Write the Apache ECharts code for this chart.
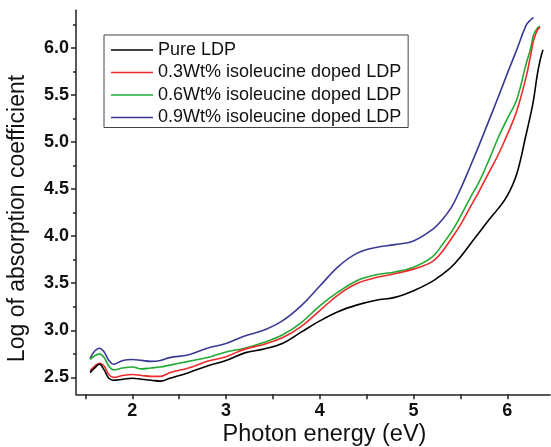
<!DOCTYPE html>
<html>
<head>
<meta charset="utf-8">
<script src="https://cdn.jsdelivr.net/npm/echarts@6/dist/echarts.min.js"></script>
<style>
html,body{margin:0;padding:0;background:#fff;}
#chart{width:551px;height:447px;}
</style>
</head>
<body>
<div id="chart"></div>
<script>
// Photon energy (eV)
var energy = [1.55,1.6,1.65,1.7,1.75,1.8,1.9,2.0,2.1,2.2,2.3,2.4,2.6,2.8,3.0,3.2,3.4,3.6,3.8,4.0,4.2,4.4,4.6,4.8,5.0,5.2,5.3,5.4,5.5,5.6,5.7,5.8,5.9,6.0,6.1,6.2,6.25,6.28,6.32,6.35,6.38];

var seriesNames = ['Pure LDP','0.3Wt% isoleucine doped LDP','0.6Wt% isoleucine doped LDP','0.9Wt% isoleucine doped LDP'];

var pureLDP = [2.55,2.60,2.64,2.58,2.49,2.47,2.48,2.49,2.48,2.47,2.46,2.49,2.55,2.62,2.68,2.76,2.80,2.86,2.98,3.10,3.20,3.27,3.32,3.35,3.42,3.52,3.59,3.67,3.78,3.91,4.04,4.17,4.29,4.43,4.66,5.08,5.30,5.45,5.72,5.87,5.98];
var doped03 = [2.57,2.62,2.65,2.62,2.53,2.50,2.52,2.53,2.52,2.51,2.51,2.55,2.60,2.67,2.72,2.80,2.85,2.92,3.04,3.21,3.38,3.50,3.56,3.60,3.65,3.73,3.83,3.97,4.12,4.30,4.48,4.67,4.86,5.08,5.33,5.69,5.93,6.08,6.19,6.22,null];
var doped06 = [2.69,2.73,2.75,2.71,2.62,2.58,2.60,2.61,2.59,2.60,2.61,2.63,2.67,2.71,2.77,2.81,2.87,2.95,3.08,3.26,3.41,3.53,3.59,3.62,3.67,3.78,3.90,4.04,4.21,4.40,4.58,4.80,5.04,5.25,5.45,5.83,6.00,6.14,6.21,6.23,null];
var doped09 = [2.70,2.78,2.81,2.77,2.68,2.64,2.68,2.69,2.68,2.67,2.68,2.71,2.74,2.81,2.86,2.94,3.00,3.10,3.26,3.47,3.68,3.82,3.88,3.91,3.95,4.07,4.17,4.30,4.50,4.73,4.97,5.22,5.47,5.73,5.98,6.24,6.30,6.32,null,null,null];

var seriesValues = [pureLDP, doped03, doped06, doped09];
var seriesColors = ['#000000','#ee2a2a','#22aa33','#3a3a96'];

var xTicks = [1.5,2,2.5,3,3.5,4,4.5,5,5.5,6];
var xLabels = [2,3,4,5,6];
var yMajor = [2.5,3.0,3.5,4.0,4.5,5.0,5.5,6.0];
var yMinor = [2.75,3.25,3.75,4.25,4.75,5.25,5.75,6.25];

function pairs(vals){
  var out = [];
  for (var i=0;i<energy.length;i++){ if (vals[i]!==null) out.push([energy[i], vals[i]]); }
  return out;
}

var chart = echarts.init(document.getElementById('chart'), null, {renderer:'canvas'});
var axisLineStyle = {color:'#222', width:1.5};
var series = seriesNames.map(function(n,i){
  return {
    name:n, type:'line', data:pairs(seriesValues[i]), xAxisIndex:0, yAxisIndex:0,
    symbol:'none', smooth:0.4, lineStyle:{color:seriesColors[i], width:1.6}, itemStyle:{color:seriesColors[i]},
    z: 10 - i
  };
});

chart.setOption({
  animation:false,
  backgroundColor:'#fff',
  grid:{left:76, right:1, top:10.3, bottom:52.7, containLabel:false},
  legend:{
    orient:'vertical', left:104, top:35,
    data:seriesNames,
    icon:'rect',
    itemWidth:42, itemHeight:1.6, itemGap:4.5,
    padding:[6,7,1,7],
    borderColor:'#444', borderWidth:1, backgroundColor:'#fff',
    textStyle:{fontFamily:'Liberation Sans', fontSize:18, color:'#111', lineHeight:18},
    selectedMode:false
  },
  xAxis:[{
    type:'value', min:1.4, max:6.455,
    axisLine:{show:true, onZero:false, lineStyle:axisLineStyle},
    axisTick:{show:true, inside:false, length:5, lineStyle:axisLineStyle, customValues:xTicks},
    axisLabel:{show:true, margin:8, customValues:xLabels, fontFamily:'Liberation Sans', fontWeight:'bold', fontSize:18, color:'#111', formatter:function(v){return String(Math.round(v));}},
    splitLine:{show:false}
  }],
  yAxis:[{
    type:'value', min:2.32, max:6.40, position:'left',
    axisLine:{show:true, onZero:false, lineStyle:axisLineStyle},
    axisTick:{show:true, inside:false, length:5, lineStyle:axisLineStyle, customValues:yMajor},
    axisLabel:{show:true, margin:7, customValues:yMajor, fontFamily:'Liberation Sans', fontWeight:'bold', fontSize:18, color:'#111', formatter:function(v){return v.toFixed(1);}},
    splitLine:{show:false}
  },{
    type:'value', min:2.32, max:6.40, position:'left',
    axisLine:{show:false},
    axisTick:{show:true, inside:false, length:3, lineStyle:axisLineStyle, customValues:yMinor},
    axisLabel:{show:false},
    splitLine:{show:false}
  }],
  graphic:[
    {type:'text', x:324.5, y:434.5, style:{text:'Photon energy (eV)', fontFamily:'Liberation Sans', fontSize:23.5, fill:'#111', align:'center', verticalAlign:'middle'}},
    {type:'text', x:18, y:218.5, rotation:Math.PI/2, style:{text:'Log of absorption coefficient', fontFamily:'Liberation Sans', fontSize:23, fill:'#111', align:'center', verticalAlign:'middle'}}
  ],
  series:series
});
</script>
</body>
</html>
